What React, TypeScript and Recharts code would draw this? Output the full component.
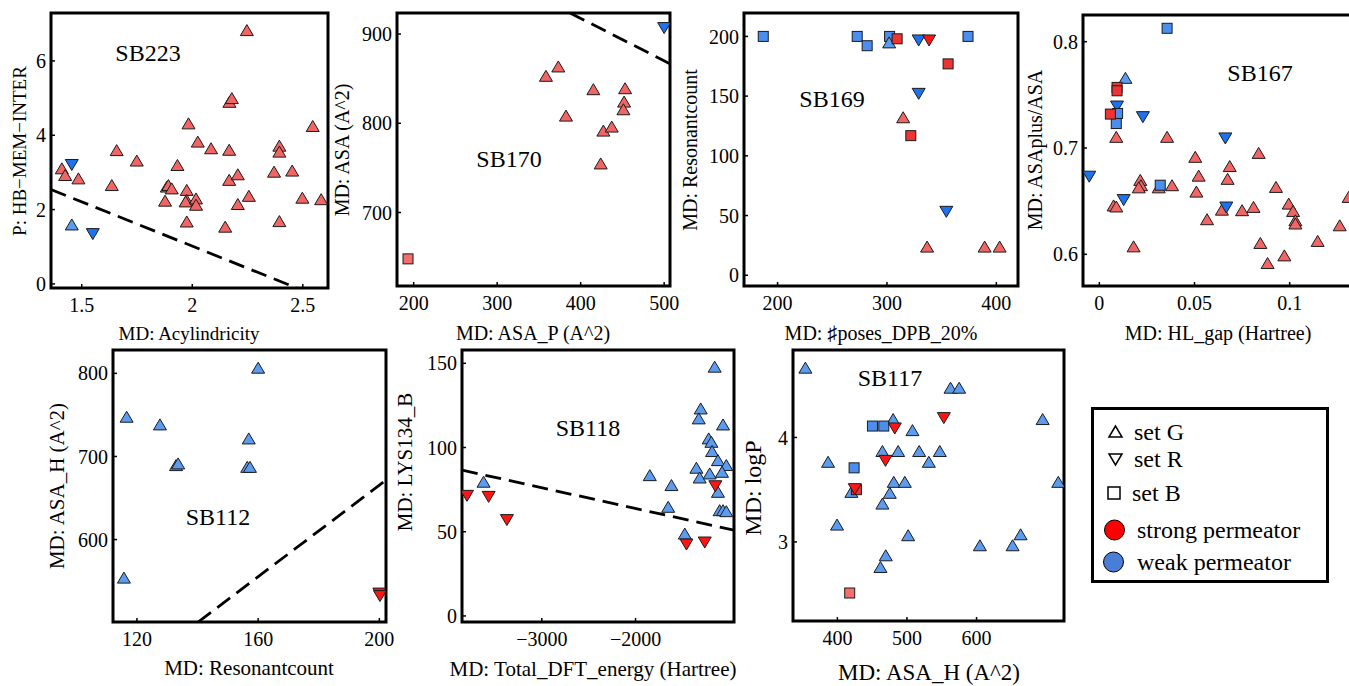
import React from 'react';
import { ScatterChart, Scatter, XAxis, YAxis, ReferenceLine, ReferenceArea } from 'recharts';

type Pt = { x: number; y: number };
const pts = (a: number[][]): Pt[] => a.map(([x, y]) => ({ x, y }));

// SB223
const sb223StrongG = pts([
  [1.41, 3.11], [1.425, 2.93], [1.485, 2.84], [1.636, 2.66], [1.658, 3.6], [1.749, 3.32],
  [1.885, 2.62], [1.892, 2.66], [1.907, 2.57], [1.877, 2.24], [1.933, 3.2], [1.983, 4.32],
  [1.975, 2.53], [1.975, 2.26], [1.97, 2.22], [1.975, 1.68], [2.017, 2.3], [2.017, 2.13],
  [2.025, 3.83], [2.085, 3.65], [2.149, 1.54], [2.167, 3.61], [2.167, 2.8], [2.168, 4.9],
  [2.179, 5.0], [2.206, 2.95], [2.206, 2.15], [2.247, 6.83], [2.256, 2.37], [2.37, 3.02],
  [2.394, 3.72], [2.394, 3.56], [2.394, 1.69], [2.452, 3.05], [2.498, 2.32], [2.545, 4.25],
  [2.583, 2.28],
]);
const sb223WeakG = pts([[1.455, 1.6]]);
const sb223WeakR = pts([[1.455, 3.2], [1.55, 1.34]]);
const sb223Line = pts([[1.361, 2.54], [2.473, -0.11]]);

// SB170
const sb170StrongB = pts([[193.2, 648]]);
const sb170StrongG = pts([
  [358.4, 853.2], [373.2, 863.7], [382.4, 808.6], [415.2, 838.2], [427.2, 791.8],
  [437.2, 796.3], [424, 755], [453.2, 839.3], [452, 824.3], [451.2, 815.7],
]);
const sb170WeakR = pts([[500, 906.7]]);
const sb170Line = pts([[387.2, 923.6], [507, 866.7]]);

// SB169
const sb169WeakB = pts([[186.9, 200], [272.8, 200], [281.9, 192.2], [302.4, 200], [374.1, 200]]);
const sb169WeakG = pts([[302, 195]]);
const sb169StrongB = pts([[309.3, 198], [355.9, 177], [321.8, 116.9]]);
const sb169WeakR = pts([[329, 196.6], [329, 151.9], [354.3, 53.1]]);
const sb169StrongR = pts([[338.5, 196.6]]);
const sb169StrongG = pts([[314.8, 132.3], [336.7, 24], [389.3, 24], [403, 24]]);

// SB167
const sb167WeakB = pts([[0.0356, 0.8126], [0.0096, 0.7325], [0.0089, 0.723], [0.032, 0.665]]);
const sb167WeakG = pts([[0.0137, 0.766]]);
const sb167StrongB = pts([[0.0093, 0.757], [0.0093, 0.7538], [0.0058, 0.7319]]);
const sb167WeakR = pts([
  [0.0093, 0.739], [0.0229, 0.729], [0.0662, 0.709], [-0.0053, 0.673], [0.0128, 0.651], [0.0667, 0.644],
]);
const sb167StrongG = pts([
  [0.0089, 0.7105], [0.0356, 0.7105], [0.0504, 0.6917], [0.0522, 0.674], [0.051, 0.659],
  [0.0566, 0.633], [0.0075, 0.646], [0.0089, 0.645], [0.0215, 0.67], [0.0219, 0.665],
  [0.0207, 0.663], [0.0312, 0.663], [0.0382, 0.665], [0.018, 0.6075], [0.0644, 0.642],
  [0.0685, 0.683], [0.0674, 0.671], [0.075, 0.6415], [0.081, 0.6446], [0.0837, 0.6954],
  [0.0846, 0.6107], [0.0884, 0.5918], [0.0928, 0.6634], [0.0972, 0.599], [0.0995, 0.6477],
  [0.1018, 0.6408], [0.103, 0.632], [0.103, 0.629], [0.1147, 0.6126], [0.1263, 0.6273],
  [0.131, 0.654],
]);

// SB112
const sb112WeakG = pts([
  [160, 806.8], [116.6, 747.8], [127.6, 738.6], [132.9, 689.6], [133.6, 691.6],
  [156.9, 721.7], [156.4, 687.5], [157.3, 687.5], [115.7, 554.2],
]);
const sb112StrongR = pts([[200, 535], [200.2, 532]]);
const sb112Line = pts([[140.2, 500.8], [202.2, 671.5]]);

// SB118
const sb118WeakG = pts([
  [-1156, 148], [-1305, 123.2], [-1326, 117.3], [-1848, 83.6], [-1617, 77.7], [-1652, 64.8],
  [-1475, 48.9], [-3621, 79.7], [-1351, 88], [-1316, 82.2], [-1220, 105.4], [-1191, 103.4],
  [-1184, 97.9], [-1209, 84.6], [-1121, 92.5], [-1067, 113.7], [-1032, 89.6], [-1078, 85.6],
  [-1121, 73.7], [-1103, 62.8], [-1067, 62.8], [-1032, 62.2],
]);
const sb118StrongR = pts([
  [-3798, 71.3], [-3567, 70.7], [-3372, 56.9], [-1457, 42.4], [-1262, 43.6], [-1149, 77],
]);
const sb118Line = pts([[-3851, 86.6], [-950, 50.9]]);

// SB117
const sb117WeakG = pts([
  [354, 4.668], [562.6, 4.476], [575, 4.476], [695, 4.176], [480.1, 4.176], [507.9, 4.07],
  [386.6, 3.767], [464.7, 3.87], [487.3, 3.87], [517.5, 3.87], [531.4, 3.767], [547.2, 3.87],
  [481, 3.575], [496.9, 3.575], [475.3, 3.47], [464.7, 3.367], [399.5, 3.166], [420.1, 3.479],
  [501.7, 3.064], [604.8, 2.968], [651.8, 2.968], [663.3, 3.073], [469.5, 2.872], [461.9, 2.76],
  [717.5, 3.575],
]);
const sb117WeakB = pts([[450.4, 4.109], [466.7, 4.109], [424, 3.709]]);
const sb117StrongBLight = pts([[417.7, 2.511]]);
const sb117StrongB = pts([[427.3, 3.5]]);
const sb117StrongR = pts([[482.5, 4.086], [553, 4.185], [469.1, 3.776], [425, 3.505]]);

const FONT = "'Liberation Serif', 'Times New Roman', Times, serif";
const RU = '#f26565';
const RD = '#ff1414';
const RS = '#ee3333';
const RSL = '#f46e6e';
const BU = '#5c9cf0';
const BD = '#1d72ee';
const BS = '#4a8ef0';

const tri = (fill: string, down = false) => (p: any) => {
  const { cx, cy } = p;
  const w = 13, h = 11;
  const points = down
    ? `${cx - w / 2},${cy - h / 2} ${cx + w / 2},${cy - h / 2} ${cx},${cy + h / 2}`
    : `${cx},${cy - h / 2} ${cx - w / 2},${cy + h / 2} ${cx + w / 2},${cy + h / 2}`;
  return <polygon points={points} fill={fill} stroke="#1b1b1b" strokeWidth={1} />;
};
const sq = (fill: string) => (p: any) => {
  const { cx, cy } = p;
  return <rect x={cx - 5} y={cy - 5} width={10} height={10} fill={fill} stroke="#1b1b1b" strokeWidth={1} />;
};

type Series = { data: Pt[]; shape: (p: any) => React.ReactElement };
type Frame = { l: number; t: number; r: number; b: number };

const minus = (v: number) => (v < 0 ? '\u2212' + Math.abs(v) : String(v));

function Panel({ frame, xDomain, yDomain, xTicks, yTicks, series, line, fmt }: {
  frame: Frame; xDomain: [number, number]; yDomain: [number, number];
  xTicks: number[]; yTicks: number[]; series: Series[]; line?: Pt[]; fmt?: (v: number) => string;
}) {
  const YW = 60, XH = 40, MT = 10, MR = 10;
  const w = frame.r - frame.l + YW + MR;
  const h = frame.b - frame.t + MT + XH;
  const tick = { fill: '#000', fontSize: 20, fontFamily: FONT };
  return (
    <div style={{ position: 'absolute', left: frame.l - YW, top: frame.t - MT }}>
      <ScatterChart width={w} height={h} margin={{ top: MT, right: MR, bottom: 0, left: 0 }}>
        <XAxis type="number" dataKey="x" domain={xDomain} allowDataOverflow ticks={xTicks} interval={0}
          axisLine={false} tickSize={-4} tickMargin={14} tick={tick} tickLine={{ stroke: '#000', strokeWidth: 1.5 }}
          height={XH} tickFormatter={fmt} />
        <YAxis type="number" dataKey="y" domain={yDomain} allowDataOverflow ticks={yTicks} interval={0}
          axisLine={false} tickSize={-4} tickMargin={9} tick={tick} tickLine={{ stroke: '#000', strokeWidth: 1.5 }}
          width={YW} />
        <ReferenceArea x1={xDomain[0]} x2={xDomain[1]} y1={yDomain[0]} y2={yDomain[1]}
          fill="none" stroke="#000" strokeWidth={3} ifOverflow="visible" />
        {line && (
          <ReferenceLine segment={line} stroke="#000" strokeWidth={2.8} strokeDasharray="16 8" ifOverflow="hidden" />
        )}
        {series.map((s, i) => (
          <Scatter key={i} data={s.data} shape={s.shape} isAnimationActive={false} />
        ))}
      </ScatterChart>
    </div>
  );
}

function Txt({ x, y, size, children, rot }: { x: number; y: number; size: number; children: React.ReactNode; rot?: boolean }) {
  return (
    <div style={{
      position: 'absolute', left: x, top: y, fontSize: size, whiteSpace: 'nowrap', lineHeight: 1,
      transform: `translate(-50%, -50%)${rot ? ' rotate(-90deg)' : ''}`,
    }}>{children}</div>
  );
}

function Legend() {
  const row = (y: number, icon: React.ReactNode, label: string, tx: number) => (
    <>
      <svg style={{ position: 'absolute', left: 1101, top: y - 12 }} width={26} height={24}>{icon}</svg>
      <div style={{ position: 'absolute', left: tx, top: y, transform: 'translateY(-50%)', fontSize: 24, lineHeight: 1, whiteSpace: 'nowrap' }}>{label}</div>
    </>
  );
  return (
    <>
      <div style={{ position: 'absolute', left: 1091, top: 407, width: 238, height: 176, border: '3px solid #000', boxSizing: 'border-box' }} />
      {row(432, <polygon points="14.5,6 8,17 21,17" fill="#fff" stroke="#000" strokeWidth={1.5} />, 'set G', 1134)}
      {row(459, <polygon points="8,7 21,7 14.5,18" fill="#fff" stroke="#000" strokeWidth={1.5} />, 'set R', 1134)}
      {row(493, <rect x={7} y={6} width={12} height={12} fill="#fff" stroke="#000" strokeWidth={1.5} />, 'set B', 1132)}
      {row(530, <circle cx={13.5} cy={12} r={10} fill="#ff0000" stroke="#000" strokeWidth={1} />, 'strong permeator', 1137)}
      {row(562, <circle cx={12.5} cy={12} r={10} fill="#4a7dd6" stroke="#000" strokeWidth={1} />, 'weak permeator', 1137)}
    </>
  );
}

export default function App() {
  return (
    <div style={{ position: 'fixed', left: 0, top: 0, width: 1349, height: 686, overflow: 'hidden', background: '#fff', fontFamily: FONT, color: '#000' }}>
      <Panel frame={{ l: 51, t: 13, r: 328, b: 288 }} xDomain={[1.361, 2.614]} yDomain={[-0.11, 7.29]}
        xTicks={[1.5, 2, 2.5]} yTicks={[0, 2, 4, 6]} line={sb223Line}
        series={[
          { data: sb223StrongG, shape: tri(RU) },
          { data: sb223WeakG, shape: tri(BU) },
          { data: sb223WeakR, shape: tri(BD, true) },
        ]} />
      <Panel frame={{ l: 397, t: 13, r: 670, b: 286 }} xDomain={[180, 507]} yDomain={[617.6, 923.6]}
        xTicks={[200, 300, 400, 500]} yTicks={[700, 800, 900]} line={sb170Line}
        series={[
          { data: sb170StrongB, shape: sq(RSL) },
          { data: sb170StrongG, shape: tri(RU) },
          { data: sb170WeakR, shape: tri(BD, true) },
        ]} />
      <Panel frame={{ l: 744, t: 13, r: 1018, b: 286 }} xDomain={[169.3, 419.8]} yDomain={[-9, 219.6]}
        xTicks={[200, 300, 400]} yTicks={[0, 50, 100, 150, 200]}
        series={[
          { data: sb169WeakB, shape: sq(BS) },
          { data: sb169WeakG, shape: tri(BU) },
          { data: sb169StrongB, shape: sq(RS) },
          { data: sb169WeakR, shape: tri(BD, true) },
          { data: sb169StrongR, shape: tri(RD, true) },
          { data: sb169StrongG, shape: tri(RU) },
        ]} />
      <Panel frame={{ l: 1083, t: 15, r: 1358, b: 286 }} xDomain={[-0.00858, 0.1359]} yDomain={[0.5702, 0.8251]}
        xTicks={[0, 0.05, 0.1]} yTicks={[0.6, 0.7, 0.8]}
        series={[
          { data: sb167StrongG, shape: tri(RU) },
          { data: sb167WeakR, shape: tri(BD, true) },
          { data: sb167WeakG, shape: tri(BU) },
          { data: sb167WeakB, shape: sq(BS) },
          { data: sb167StrongB, shape: sq(RS) },
        ]} />
      <Panel frame={{ l: 113, t: 350, r: 386, b: 622 }} xDomain={[112.1, 202.2]} yDomain={[500.8, 828.1]}
        xTicks={[120, 160, 200]} yTicks={[600, 700, 800]} line={sb112Line}
        series={[
          { data: sb112WeakG, shape: tri(BU) },
          { data: sb112StrongR, shape: tri(RD, true) },
        ]} />
      <Panel frame={{ l: 462, t: 350, r: 734, b: 622 }} xDomain={[-3851, -950]} yDomain={[-3.6, 157.9]}
        xTicks={[-3000, -2000]} yTicks={[0, 50, 100, 150]} line={sb118Line} fmt={minus}
        series={[
          { data: sb118WeakG, shape: tri(BU) },
          { data: sb118StrongR, shape: tri(RD, true) },
        ]} />
      <Panel frame={{ l: 793, t: 350, r: 1064, b: 621 }} xDomain={[336.2, 725.7]} yDomain={[2.243, 4.837]}
        xTicks={[400, 500, 600]} yTicks={[3, 4]}
        series={[
          { data: sb117WeakG, shape: tri(BU) },
          { data: sb117WeakB, shape: sq(BS) },
          { data: sb117StrongBLight, shape: sq(RSL) },
          { data: sb117StrongB, shape: sq(RS) },
          { data: sb117StrongR, shape: tri(RD, true) },
        ]} />

      <Txt x={148} y={53} size={24}>SB223</Txt>
      <Txt x={509} y={159} size={24}>SB170</Txt>
      <Txt x={832} y={99} size={24}>SB169</Txt>
      <Txt x={1260} y={73} size={24}>SB167</Txt>
      <Txt x={218} y={517} size={24}>SB112</Txt>
      <Txt x={588} y={428} size={24}>SB118</Txt>
      <Txt x={890} y={378} size={24}>SB117</Txt>

      <Txt x={189} y={333} size={19}>MD: Acylindricity</Txt>
      <Txt x={533} y={333} size={20}>MD: ASA_P (A^2)</Txt>
      <Txt x={881} y={333} size={20}>MD: ♯poses_DPB_20%</Txt>
      <Txt x={1218} y={333} size={20}>MD: HL_gap (Hartree)</Txt>
      <Txt x={249} y={668} size={21}>MD: Resonantcount</Txt>
      <Txt x={593} y={669} size={21}>MD: Total_DFT_energy (Hartree)</Txt>
      <Txt x={929} y={672} size={23}>MD: ASA_H (A^2)</Txt>

      <Txt x={19} y={151} size={19} rot>P: HB−MEM−INTER</Txt>
      <Txt x={342} y={150} size={20} rot>MD: ASA (A^2)</Txt>
      <Txt x={690} y={150} size={20} rot>MD: Resonantcount</Txt>
      <Txt x={1035} y={150} size={20} rot>MD: ASAplus/ASA</Txt>
      <Txt x={57} y={486} size={21} rot>MD: ASA_H (A^2)</Txt>
      <Txt x={405} y={462} size={21} rot>MD: LYS134_B</Txt>
      <Txt x={753} y={488} size={24} rot>MD: logP</Txt>

      <Legend />
    </div>
  );
}
